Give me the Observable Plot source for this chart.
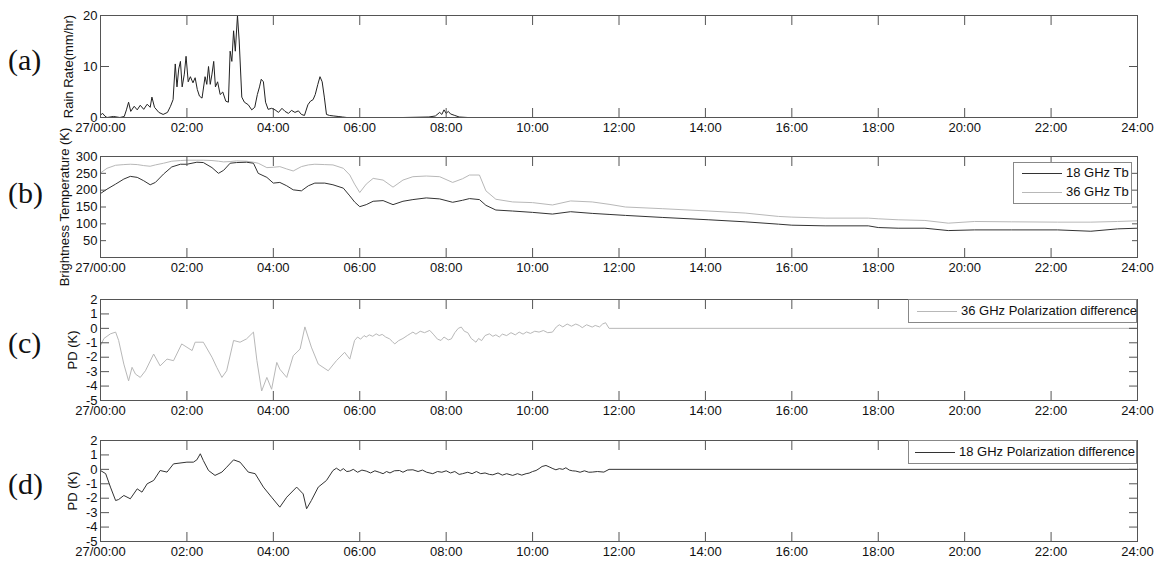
<!DOCTYPE html>
<html><head><meta charset="utf-8">
<script src="https://cdn.jsdelivr.net/npm/d3@7"></script>
<script src="https://cdn.jsdelivr.net/npm/@observablehq/plot@0.6"></script>
<style>
body{margin:0;background:#fff;}
#chart{position:relative;width:1162px;height:563px;font-family:"Liberation Sans",Arial,sans-serif;color:#111;overflow:hidden;}
.panel{position:absolute;left:0;overflow:visible;}
.tag{position:absolute;left:8px;font-family:"Liberation Serif","Times New Roman",serif;font-size:30px;line-height:30px;color:#111;}
.legend{position:absolute;border:1px solid #888;background:#fff;box-sizing:border-box;}
.lline{position:absolute;height:0;border-top:1px solid;}
.ltext{position:absolute;font-size:13px;line-height:15px;white-space:nowrap;color:#111;}
</style>
</head><body>
<div id="chart"></div>
<script>
// ---------- data ----------
const xTicks = [0, 2, 4, 6, 8, 10, 12, 14, 16, 18, 20, 22, 24];
const xTickLabels = ["27/00:00", "02:00", "04:00", "06:00", "08:00", "10:00", "12:00", "14:00", "16:00", "18:00", "20:00", "22:00", "24:00"];

const rainHour = [0, 0.05, 0.1, 0.15, 0.3, 0.45, 0.55, 0.6, 0.65, 0.7,
 0.78, 0.85, 0.92, 1.0, 1.08, 1.15, 1.19, 1.25, 1.35, 1.45,
 1.55, 1.62, 1.68, 1.73, 1.77, 1.81, 1.85, 1.89, 1.94, 1.98,
 2.03, 2.08, 2.14, 2.19, 2.24, 2.29, 2.35, 2.42, 2.46, 2.5,
 2.54, 2.58, 2.62, 2.66, 2.71, 2.77, 2.83, 2.9, 2.96, 3.0,
 3.04, 3.08, 3.12, 3.17, 3.21, 3.27, 3.33, 3.42, 3.5, 3.57,
 3.63, 3.68, 3.72, 3.77, 3.82, 3.88, 3.96, 4.04, 4.12, 4.2,
 4.27, 4.35, 4.42, 4.5, 4.58, 4.65, 4.72, 4.8, 4.86, 4.92,
 4.97, 5.03, 5.08, 5.13, 5.18, 5.23, 5.3, 5.4, 5.5, 5.6,
 5.7, 6.0, 7.0, 7.6, 7.75, 7.85, 7.9, 7.95, 8.0, 8.05,
 8.1, 8.2, 8.3, 8.5, 24];
const rainRate = [0.5, 0.8, 0.3, 0, 0.2, 0, 0.2, 1.5, 3.0, 1.2,
 2.2, 1.5, 2.4, 1.6, 2.6, 2.0, 4.0, 2.0, 1.0, 0.6,
 1.0, 2.2, 3.5, 10.5, 6.0, 9.5, 11.0, 6.0, 8.5, 12.0,
 7.0, 8.0, 6.8, 7.8, 5.5, 4.2, 3.8, 8.0, 6.5, 10.0,
 6.5, 8.5, 11.0, 6.0, 7.0, 4.5, 5.0, 3.2, 3.0, 13.0,
 11.0, 17.0, 13.0, 20.0, 15.0, 4.0, 3.0, 2.5, 1.5, 2.0,
 4.5, 6.0, 7.5, 7.0, 3.0, 1.6, 1.8, 1.5, 1.0, 1.8,
 1.2, 0.8, 1.4, 1.0, 1.3, 0.6, 0.4, 2.5, 3.2, 3.5,
 4.5, 6.5, 8.0, 7.0, 4.0, 0.6, 0.4, 0.3, 0.2, 0.1,
 0, 0, 0, 0.1, 0.3, 1.0, 0.6, 1.5, 0.8, 1.2,
 0.7, 0.4, 0.1, 0, 0];

const tbHour = [0, 0.15, 0.35, 0.54, 0.69, 0.85, 1.0, 1.15, 1.27, 1.46,
 1.65, 1.85, 2.0, 2.23, 2.38, 2.58, 2.73, 2.85, 3.0, 3.15,
 3.38, 3.54, 3.65, 3.85, 4.0, 4.15, 4.31, 4.46, 4.65, 4.81,
 4.96, 5.19, 5.38, 5.62, 5.77, 5.88, 6.0, 6.15, 6.31, 6.54,
 6.77, 7.0, 7.23, 7.54, 7.85, 8.15, 8.38, 8.54, 8.77, 8.92,
 9.15, 9.54, 10.0, 10.46, 10.88, 11.38, 11.77, 12.15, 13.0, 14.08,
 14.92, 15.69, 16.0, 16.77, 17.77, 18.0, 18.46, 19.08, 19.62, 20.23,
 21.08, 22.15, 22.92, 23.54, 24];
const tb18 = [190, 203, 218, 233, 241, 238, 228, 216, 223, 248,
 269, 277, 277, 283, 282, 267, 250, 259, 280, 282,
 283, 280, 250, 238, 221, 223, 213, 201, 198, 213,
 221, 221, 216, 206, 183, 165, 151, 157, 167, 169,
 157, 167, 172, 177, 174, 164, 170, 175, 172, 155,
 141, 138, 134, 129, 136, 131, 128, 125, 119, 112,
 106, 99, 96, 94, 94, 89, 87, 87, 80, 82,
 82, 82, 78, 85, 87];
const tb36 = [251, 265, 274, 276, 277, 276, 273, 271, 275, 280,
 286, 288, 289, 289, 289, 288, 286, 284, 285, 287,
 286, 283, 280, 267, 268, 270, 263, 257, 270, 275,
 277, 276, 275, 265, 245, 218, 193, 218, 235, 230,
 209, 230, 240, 242, 240, 223, 234, 245, 245, 198,
 173, 165, 163, 156, 168, 165, 158, 150, 145, 138,
 132, 122, 120, 117, 117, 115, 112, 110, 102, 107,
 106, 105, 105, 107, 109];

const pd36Hour = [0, 0.08, 0.23, 0.35, 0.42, 0.54, 0.65, 0.73, 0.81, 0.92,
 1.04, 1.23, 1.38, 1.54, 1.69, 1.88, 2.12, 2.19, 2.38, 2.58,
 2.69, 2.81, 2.92, 3.08, 3.23, 3.38, 3.54, 3.62, 3.73, 3.85,
 3.96, 4.08, 4.15, 4.31, 4.46, 4.62, 4.73, 4.88, 5.04, 5.27,
 5.46, 5.65, 5.77,
 5.88, 5.95, 6.02, 6.1, 6.15, 6.22, 6.3, 6.38, 6.45, 6.52,
 6.6, 6.69, 6.75, 6.81, 6.9, 7.0, 7.1, 7.18, 7.23, 7.3,
 7.4, 7.5, 7.62, 7.7, 7.8, 7.88, 7.95, 8.05, 8.12, 8.2,
 8.28, 8.35, 8.42, 8.5, 8.58, 8.69, 8.75, 8.82, 8.9, 9.0,
 9.08, 9.15, 9.23, 9.3, 9.4, 9.5, 9.6, 9.69, 9.78, 9.86,
 9.95, 10.05, 10.15, 10.25, 10.35, 10.46, 10.55, 10.62, 10.7, 10.8,
 10.9, 11.0, 11.08, 11.15, 11.25, 11.38, 11.45, 11.55, 11.62, 11.69,
 11.77, 24];
const pd36 = [-1.2, -0.7, -0.38, -0.26, -0.84, -2.48, -3.64, -2.7, -3.17, -3.4,
 -2.94, -1.78, -2.6, -2.13, -2.24, -1.08, -1.54, -0.96, -0.96, -2.0,
 -2.7, -3.4, -2.94, -0.84, -0.96, -0.73, -0.26, -2.24, -4.34, -3.4,
 -4.22, -2.36, -2.83, -3.4, -1.9, -1.43, 0.1, -1.3, -2.48, -2.94,
 -2.24, -1.66, -2.13,
 -0.84, -0.6, -0.75, -0.5, -0.6, -0.45, -0.55, -0.38, -0.5, -0.42,
 -0.6, -0.73, -0.9, -1.08, -0.85, -0.7, -0.5, -0.35, -0.26, -0.4,
 -0.2, -0.3, -0.14, -0.4, -0.75, -0.84, -0.6, -0.8, -0.73, -0.3,
 0.0, 0.09, -0.2, -0.3, -0.7, -0.96, -0.7, -0.85, -0.5, -0.38,
 -0.55, -0.45, -0.6, -0.4, -0.5, -0.3, -0.45, -0.26, -0.4, -0.25,
 -0.35, -0.2, -0.26, -0.15, -0.3, -0.26, 0.1, 0.25, 0.1, 0.3,
 0.15, 0.3, 0.2, 0.05, 0.25, 0.09, 0.2, 0.1, 0.3, 0.39,
 0.0, 0.0];

const pd18Hour = [0, 0.12, 0.23, 0.35, 0.42, 0.54, 0.69, 0.85, 0.96, 1.08,
 1.23, 1.38, 1.54, 1.69, 2.0, 2.15, 2.23, 2.31, 2.38, 2.5,
 2.65, 2.81, 2.92, 3.08, 3.23, 3.42, 3.58, 3.77, 3.96, 4.15,
 4.31, 4.54, 4.69, 4.77, 4.88, 5.04, 5.23, 5.38,
 5.46, 5.55, 5.62, 5.7, 5.77, 5.85, 5.95, 6.05, 6.15, 6.25,
 6.35, 6.45, 6.54, 6.62, 6.7, 6.8, 6.92, 7.0, 7.1, 7.23,
 7.35, 7.45, 7.55, 7.69, 7.8, 7.9, 8.0, 8.1, 8.2, 8.3,
 8.38, 8.5, 8.6, 8.7, 8.8, 8.9, 9.0, 9.08, 9.2, 9.3,
 9.4, 9.54, 9.65, 9.75, 9.85, 9.92, 10.0, 10.08, 10.15, 10.22,
 10.31, 10.4, 10.47, 10.54, 10.62, 10.7, 10.77, 10.85, 10.92, 11.0,
 11.1, 11.2, 11.3, 11.38, 11.5, 11.65, 11.77, 24];
const pd18 = [-0.08, -0.3, -1.23, -2.16, -2.09, -1.81, -2.04, -1.35, -1.58, -1.0,
 -0.77, -0.08, -0.19, 0.38, 0.5, 0.5, 0.66, 1.08, 0.61, -0.08,
 -0.42, -0.19, 0.15, 0.66, 0.5, -0.19, -0.3, -1.23, -1.93, -2.62,
 -1.93, -1.23, -1.7, -2.73, -2.16, -1.23, -0.77, -0.08,
 0.08, -0.1, 0.05, -0.15, -0.12, 0.0, -0.2, -0.05, -0.12, -0.25,
 -0.1, -0.2, -0.3, -0.15, -0.25, -0.1, -0.08, -0.2, -0.05, -0.03,
 -0.15, -0.05, -0.2, -0.3, -0.15, -0.2, -0.1, -0.25, -0.15, -0.35,
 -0.3, -0.2, -0.3, -0.15, -0.3, -0.25, -0.35, -0.38, -0.25, -0.4,
 -0.3, -0.42, -0.3, -0.4, -0.3, -0.26, -0.15, -0.08, 0.05, 0.2,
 0.27, 0.15, 0.05, -0.03, 0.05, 0.0, 0.11, -0.05, -0.1, -0.12,
 -0.2, -0.1, -0.2, -0.19, -0.15, -0.19, 0.0, 0.0];

const rainTicks = [0, 10, 20];
const tbTicks = [50, 100, 150, 200, 250, 300];
const pdTicks = [-5, -4, -3, -2, -1, 0, 1, 2];

const panelTags = ["(a)", "(b)", "(c)", "(d)"];
const tbLegend = ["18 GHz Tb", "36 GHz Tb"];
const pd36Legend = "36 GHz Polarization difference";
const pd18Legend = "18 GHz Polarization difference";

const dark = "#333";
const light = "#b8b8b8";

// ---------- drawing ----------
const chart = document.getElementById("chart");
const zip = (xs, ys) => xs.map((x, i) => ({x, y: ys[i]}));
const fmtX = d => xTickLabels[xTicks.indexOf(d)];
const fmtY = d => String(d);

function panel({top, height, mt, mb, yDomain, yTicks, yLabel, labelOffset, yTick, marks}) {
  const p = Plot.plot({
    width: 1162, height,
    marginLeft: 100, marginRight: 25, marginTop: mt, marginBottom: mb,
    x: {domain: [0, 24]},
    y: {domain: yDomain},
    style: {fontFamily: "'Liberation Sans', Arial, sans-serif", fontSize: "13px", color: "#111", background: "transparent", overflow: "visible"},
    marks: [
      ...marks,
      Plot.frame({stroke: "#555"}),
      Plot.axisX({anchor: "bottom", ticks: xTicks, tickSize: -9, tickPadding: 14, tickFormat: fmtX, label: null, stroke: "#555"}),
      Plot.axisX({anchor: "top", ticks: xTicks, tickSize: -9, fill: "none", label: null, stroke: "#555"}),
      Plot.axisY({anchor: "left", ticks: yTicks, tickSize: -yTick, tickPadding: yTick + 3, tickFormat: fmtY, stroke: "#555",
                  label: yLabel, labelAnchor: "center", labelArrow: "none", labelOffset}),
      Plot.axisY({anchor: "right", ticks: yTicks, tickSize: -yTick, fill: "none", label: null, stroke: "#555"})
    ]
  });
  p.classList.add("panel");
  p.style.top = top + "px";
  p.style.overflow = "visible";
  chart.appendChild(p);
}

panel({top: 0, height: 140, mt: 15, mb: 23, yDomain: [0, 20], yTicks: rainTicks,
  yLabel: "Rain Rate(mm/hr)", labelOffset: 37, yTick: 9,
  marks: [Plot.line(zip(rainHour, rainRate), {x: "x", y: "y", stroke: "#222", strokeWidth: 1})]});

panel({top: 140, height: 140, mt: 16, mb: 23, yDomain: [0, 300], yTicks: tbTicks,
  yLabel: "Brightness Temperature (K)", labelOffset: 41, yTick: 6,
  marks: [
    Plot.line(zip(tbHour, tb36), {x: "x", y: "y", stroke: light, strokeWidth: 1}),
    Plot.line(zip(tbHour, tb18), {x: "x", y: "y", stroke: dark, strokeWidth: 1})
  ]});

panel({top: 280, height: 143, mt: 19, mb: 23, yDomain: [-5, 2], yTicks: pdTicks,
  yLabel: "PD (K)", labelOffset: 33, yTick: 9,
  marks: [Plot.line(zip(pd36Hour, pd36), {x: "x", y: "y", stroke: light, strokeWidth: 1})]});

panel({top: 420, height: 143, mt: 20, mb: 22, yDomain: [-5, 2], yTicks: pdTicks,
  yLabel: "PD (K)", labelOffset: 33, yTick: 9,
  marks: [Plot.line(zip(pd18Hour, pd18), {x: "x", y: "y", stroke: dark, strokeWidth: 1})]});

// panel tags
[45, 178, 328, 469].forEach((t, i) => {
  const d = document.createElement("div");
  d.className = "tag";
  d.style.top = t + "px";
  d.textContent = panelTags[i];
  chart.appendChild(d);
});

// legends
function legend(box, rows) {
  const b = document.createElement("div");
  b.className = "legend";
  Object.assign(b.style, {left: box.x + "px", top: box.y + "px", width: box.w + "px", height: box.h + "px"});
  chart.appendChild(b);
  rows.forEach(r => {
    const l = document.createElement("div");
    l.className = "lline";
    Object.assign(l.style, {left: r.x1 + "px", top: r.y + "px", width: (r.x2 - r.x1) + "px", borderColor: r.color});
    chart.appendChild(l);
    const t = document.createElement("div");
    t.className = "ltext";
    Object.assign(t.style, {left: r.tx + "px", top: (r.y - 8) + "px"});
    t.textContent = r.text;
    chart.appendChild(t);
  });
}
legend({x: 1013, y: 162, w: 119, h: 42}, [
  {x1: 1022, x2: 1062, y: 173, tx: 1066, text: tbLegend[0], color: dark},
  {x1: 1022, x2: 1062, y: 192, tx: 1066, text: tbLegend[1], color: light}
]);
legend({x: 908, y: 299, w: 229, h: 24}, [
  {x1: 917, x2: 957, y: 311, tx: 961, text: pd36Legend, color: light}
]);
legend({x: 908, y: 440, w: 229, h: 24}, [
  {x1: 915, x2: 955, y: 452, tx: 959, text: pd18Legend, color: dark}
]);
</script>
</body></html>
